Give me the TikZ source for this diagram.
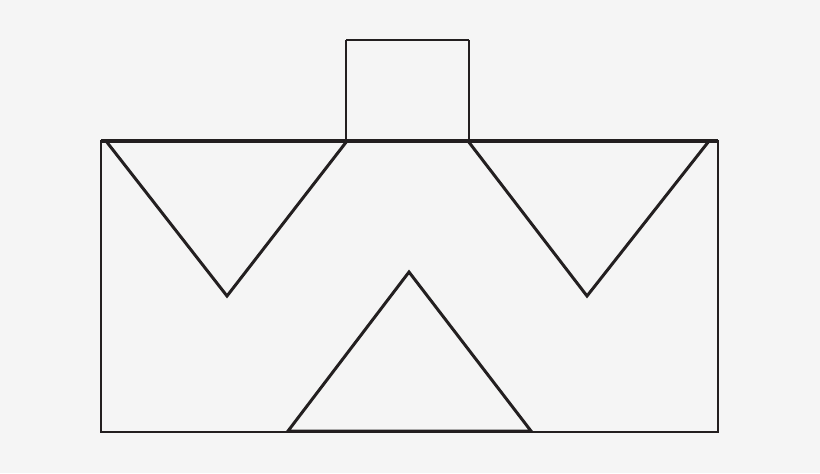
\documentclass[tikz,border=0pt]{standalone}
\definecolor{sfondo}{HTML}{F5F5F5}
\definecolor{tratto}{HTML}{231F20}
\begin{document}
\begin{tikzpicture}[x=0.02cm, y=-0.02cm]
		% sfondo
		\fill[color=sfondo] (0,0) rectangle (820,473);
		
		% rettangolo esterno
		\draw[color=tratto, line width=0.8pt] (101,141) rectangle (718,432);
		\draw[color=tratto, line width=2pt] (101,141) -- (718,141);
		
		% camino
		\draw[color=tratto, line width=0.7pt] (346,40) -- (469,40);
		\draw[color=tratto, line width=1.4pt] (346,141) -- (346,40);
		\draw[color=tratto, line width=1.4pt] (469,141) -- (469,40);
		
		% triangoli in alto
		\draw[color=tratto, line width=1.7pt, line join=miter] (106,141) -- (227,296) -- (347,141);
		\draw[color=tratto, line width=1.7pt, line join=miter] (468,141) -- (587,296) -- (709,141);
		
		% triangolo in basso
		\draw[color=tratto, line width=1.7pt, line join=miter] (288,431) -- (409,272) -- (531,431) -- cycle;
		
	\end{tikzpicture}
\end{document}
